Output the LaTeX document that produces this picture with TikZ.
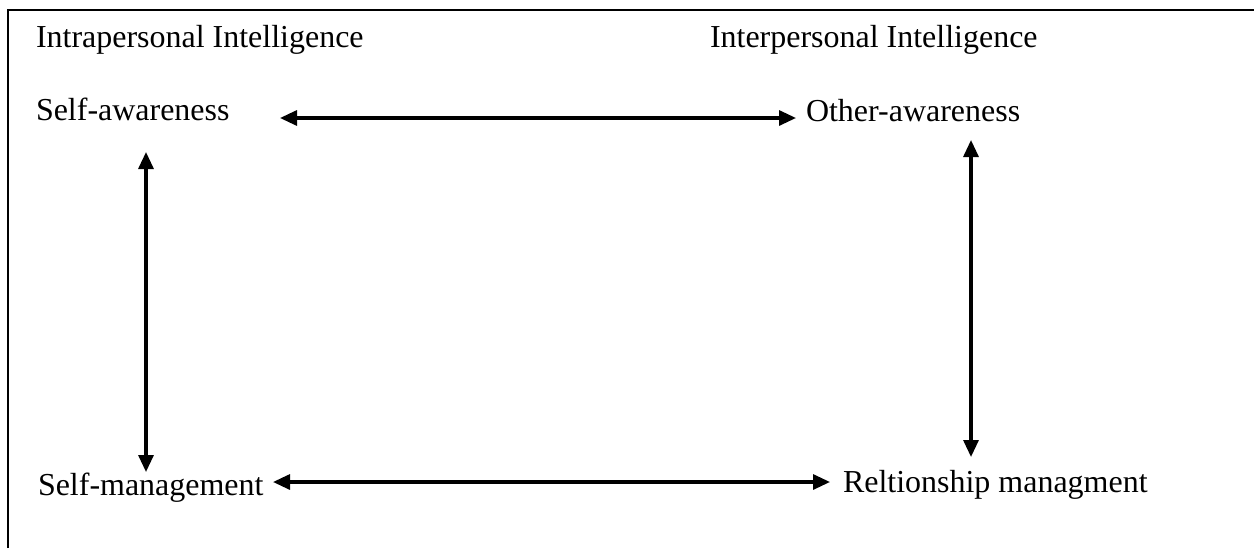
\documentclass[tikz,border=0pt]{standalone}
\usepackage{fontspec}
\setmainfont{Liberation Serif}
\usepackage{tikz}
\usetikzlibrary{calc,arrows.meta}

\begin{document}
\begin{tikzpicture}[x=0.02cm,y=-0.02cm]
\tikzset{item label/.style={ %
		inner sep=0pt,
		outer sep=0pt,
		anchor=base west,
		font=\fontsize{18.2}{22}\selectfont %
	},
	two way/.style={ %
		line width=1.8pt,
		{Triangle[length=0.34cm,width=0.3cm]}-{Triangle[length=0.34cm,width=0.3cm]} %
	}
}
\useasboundingbox (0,0) rectangle (1254,548);
\draw[line width=1.4pt] (8,548) -- (8,10) -- (1254,10);

\node[item label] (intra) at (36,47) {Intrapersonal Intelligence};
\node[item label] (inter) at (710,47) {Interpersonal Intelligence};

\node[item label] (selfaw) at (36,120) {Self-awareness};
\node[item label] (otheraw) at (806,121) {Other-awareness};
\node[item label] (selfmg) at (38,495) {Self-management};
\node[item label] (relmg) at (843,492) {Reltionship managment};

\draw[two way] ($(selfaw.base west)+(244,-2)$) -- ($(otheraw.base west)+(-10,-3)$);
\draw[two way] ($(selfaw.base west)+(110,32)$) -- ($(selfmg.base west)+(108,-23)$);
\draw[two way] ($(otheraw.base west)+(165,19)$) -- ($(relmg.base west)+(128,-35)$);
\draw[two way] ($(selfmg.base west)+(235,-13)$) -- ($(relmg.base west)+(-13,-10)$);

\end{tikzpicture}
\end{document}
